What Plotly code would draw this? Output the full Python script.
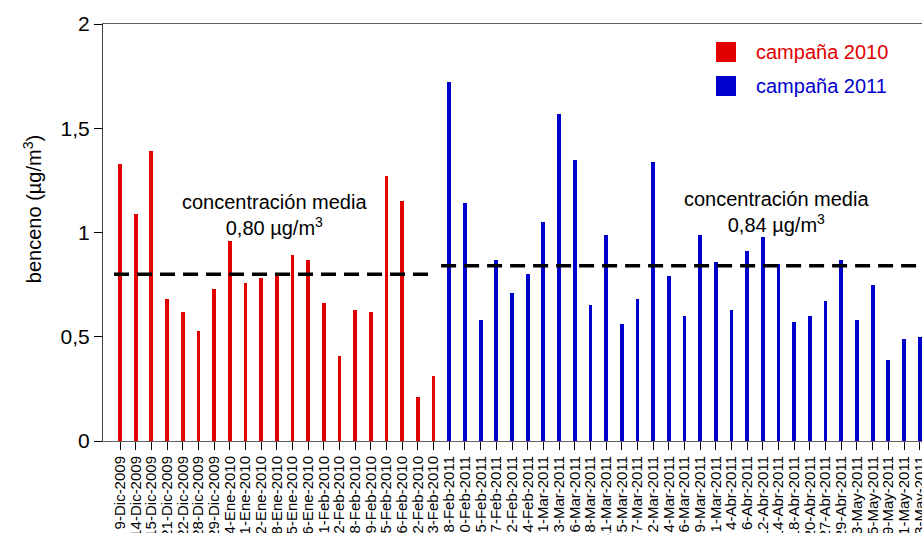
import plotly.graph_objects as go

# Sampling dates and benzene concentrations (µg/m³)
fechas_2010 = [
    "9-Dic-2009", "14-Dic-2009", "15-Dic-2009", "21-Dic-2009", "22-Dic-2009",
    "28-Dic-2009", "29-Dic-2009", "4-Ene-2010", "11-Ene-2010", "12-Ene-2010",
    "18-Ene-2010", "25-Ene-2010", "26-Ene-2010", "1-Feb-2010", "2-Feb-2010",
    "8-Feb-2010", "9-Feb-2010", "15-Feb-2010", "16-Feb-2010", "22-Feb-2010",
    "23-Feb-2010",
]
benceno_2010 = [
    1.33, 1.09, 1.39, 0.68, 0.62, 0.53, 0.73, 0.96, 0.76, 0.78,
    0.79, 0.89, 0.87, 0.66, 0.41, 0.63, 0.62, 1.27, 1.15, 0.21,
    0.31,
]

fechas_2011 = [
    "8-Feb-2011", "10-Feb-2011", "15-Feb-2011", "17-Feb-2011", "22-Feb-2011",
    "24-Feb-2011", "1-Mar-2011", "3-Mar-2011", "6-Mar-2011", "8-Mar-2011",
    "11-Mar-2011", "15-Mar-2011", "17-Mar-2011", "22-Mar-2011", "24-Mar-2011",
    "26-Mar-2011", "29-Mar-2011", "31-Mar-2011", "4-Abr-2011", "6-Abr-2011",
    "12-Abr-2011", "14-Abr-2011", "18-Abr-2011", "20-Abr-2011", "27-Abr-2011",
    "29-Abr-2011", "3-May-2011", "5-May-2011", "9-May-2011", "11-May-2011",
    "13-May-2011",
]
benceno_2011 = [
    1.72, 1.14, 0.58, 0.87, 0.71, 0.80, 1.05, 1.57, 1.35, 0.65,
    0.99, 0.56, 0.68, 1.34, 0.79, 0.60, 0.99, 0.86, 0.63, 0.91,
    0.98, 0.85, 0.57, 0.60, 0.67, 0.87, 0.58, 0.75, 0.39, 0.49,
    0.50,
]

# Campaign mean concentrations (µg/m³)
media_2010 = 0.80
media_2011 = 0.84

y_ticks = [0, 0.5, 1, 1.5, 2]
y_tick_text = ["0", "0,5", "1", "1,5", "2"]

ROJO = "#E00000"
AZUL = "#0000CD"
FUENTE = "Arial, Liberation Sans, sans-serif"

n10 = len(fechas_2010)
n11 = len(fechas_2011)
x_2010 = list(range(n10))
x_2011 = list(range(n10, n10 + n11))
todas_fechas = fechas_2010 + fechas_2011

fig = go.Figure()

fig.add_trace(go.Bar(x=x_2010, y=benceno_2010, width=0.24,
                     marker=dict(color=ROJO, line=dict(width=0)),
                     name="campaña 2010", showlegend=False))
fig.add_trace(go.Bar(x=x_2011, y=benceno_2011, width=0.24,
                     marker=dict(color=AZUL, line=dict(width=0)),
                     name="campaña 2011", showlegend=False))

# Dashed mean lines for each campaign
fig.add_trace(go.Scatter(x=[x_2010[0] - 0.38, x_2010[-1] + 0.02],
                         y=[media_2010, media_2010], mode="lines",
                         line=dict(color="black", width=3.5, dash="15px,8px"),
                         showlegend=False, hoverinfo="skip"))
fig.add_trace(go.Scatter(x=[x_2011[0] - 0.52, x_2011[-1] + 1.5],
                         y=[media_2011, media_2011], mode="lines",
                         line=dict(color="black", width=3.5, dash="15px,8px"),
                         showlegend=False, hoverinfo="skip"))


def fmt(v):
    return f"{v:.2f}".replace(".", ",")


fig.add_annotation(x=9.88, y=1.086, xref="x", yref="y", showarrow=False,
                   text=f"concentración media<br>{fmt(media_2010)} µg/m<sup>3</sup>",
                   font=dict(family=FUENTE, size=20, color="black"), align="center")
fig.add_annotation(x=41.9, y=1.10, xref="x", yref="y", showarrow=False,
                   text=f"concentración media<br>{fmt(media_2011)} µg/m<sup>3</sup>",
                   font=dict(family=FUENTE, size=20, color="black"), align="center")

# Y axis title
fig.add_annotation(x=-0.0867, y=0.556, xref="paper", yref="paper", showarrow=False,
                   xanchor="center", yanchor="middle",
                   text="benceno (µg/m<sup>3</sup>)", textangle=-90,
                   font=dict(family=FUENTE, size=20, color="black"))

# Legend
W, H = 922, 533
ML, MR, MT, MB = 103, 0, 24, 92
PW, PH = W - ML - MR, H - MT - MB


def px_x(px):
    return (px - ML) / PW


def px_y(py):
    return (H - MB - py) / PH


for (nombre, color, y0) in [("campaña 2010", ROJO, 42), ("campaña 2011", AZUL, 76)]:
    fig.add_shape(type="rect", xref="paper", yref="paper",
                  x0=px_x(716), x1=px_x(736), y0=px_y(y0 + 20), y1=px_y(y0),
                  fillcolor=color, line=dict(width=0))
    fig.add_annotation(x=px_x(754), y=px_y(y0 + 10), xref="paper", yref="paper",
                       xanchor="left", yanchor="middle", showarrow=False,
                       text=nombre, font=dict(family=FUENTE, size=20, color=color))

fig.update_xaxes(
    range=[-1.084, -1.084 + PW / 15.68],
    tickmode="array", tickvals=x_2010 + x_2011, ticktext=todas_fechas,
    tickangle=-90, tickfont=dict(family=FUENTE, size=15, color="black"),
    ticklabeloverflow="allow",
    ticks="outside", ticklen=8, tickcolor="black", tickwidth=1,
    showline=True, linecolor="#606060", linewidth=1, mirror=True,
    showgrid=False, zeroline=False, automargin=False, layer="below traces",
)
fig.update_yaxes(
    range=[0, 2],
    tickmode="array", tickvals=y_ticks, ticktext=y_tick_text,
    tickfont=dict(family=FUENTE, size=21, color="black"),
    ticks="outside", ticklen=8, tickcolor="black", tickwidth=1,
    showline=True, linecolor="#404040", linewidth=1,
    showgrid=False, zeroline=False, automargin=False,
)

fig.update_layout(
    width=W, height=H,
    margin=dict(l=ML, r=MR, t=MT, b=MB, pad=0),
    plot_bgcolor="white", paper_bgcolor="white",
    bargap=0, showlegend=False,
    font=dict(family=FUENTE),
)

fig.write_html("out.html")
